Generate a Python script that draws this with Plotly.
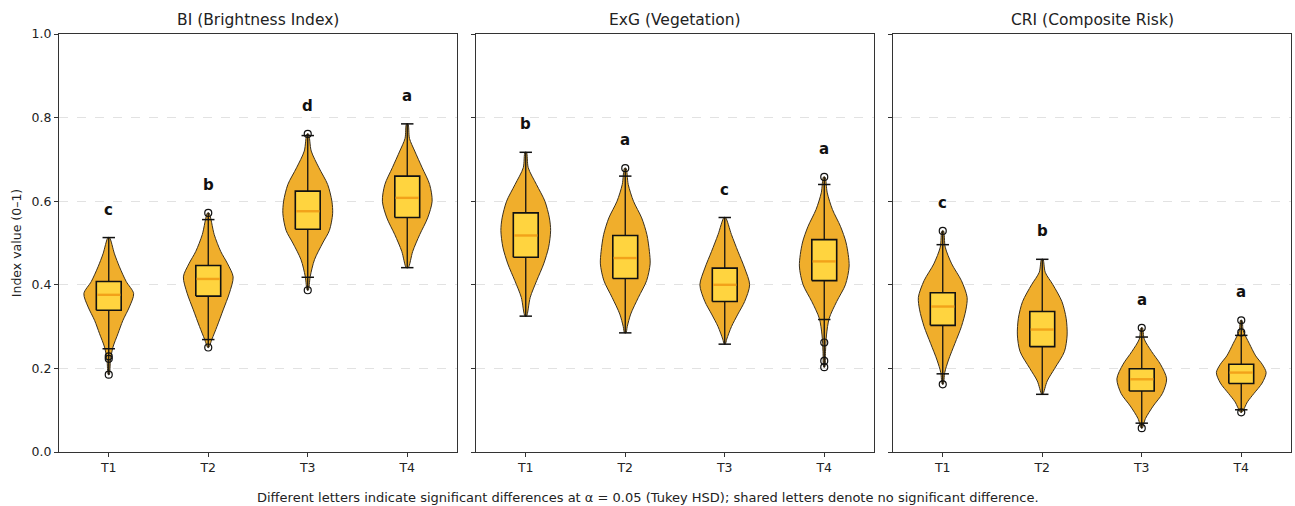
import plotly.graph_objects as go

# ---------------- data ----------------
panels = ["BI (Brightness Index)", "ExG (Vegetation)", "CRI (Composite Risk)"]
groups = ["T1", "T2", "T3", "T4"]
letters = [["c", "b", "d", "a"], ["b", "a", "c", "a"], ["c", "b", "a", "a"]]

q1 = [[0.339, 0.373, 0.533, 0.561], [0.466, 0.415, 0.360, 0.410], [0.303, 0.252, 0.146, 0.164]]
median = [[0.376, 0.414, 0.576, 0.608], [0.518, 0.464, 0.400, 0.456], [0.348, 0.293, 0.174, 0.190]]
q3 = [[0.408, 0.446, 0.624, 0.660], [0.572, 0.518, 0.440, 0.508], [0.381, 0.336, 0.199, 0.210]]
whisk_lo = [[0.247, 0.269, 0.418, 0.441], [0.325, 0.285, 0.258, 0.317], [0.187, 0.138, 0.069, 0.101]]
whisk_hi = [[0.513, 0.556, 0.757, 0.785], [0.717, 0.660, 0.561, 0.640], [0.496, 0.461, 0.275, 0.279]]
outliers = [
    [[0.229, 0.223, 0.185], [0.572, 0.250], [0.761, 0.387], []],
    [[], [0.679], [], [0.658, 0.262, 0.218, 0.203]],
    [[0.529, 0.162], [], [0.297, 0.057], [0.315, 0.286, 0.095]],
]

# violin outline: y levels (top to bottom) and relative half-width (0..1)
vio_y = [
    [
        [0.513, 0.474, 0.443, 0.408, 0.379, 0.347, 0.315, 0.283, 0.251, 0.220, 0.185],
        [0.572, 0.520, 0.480, 0.450, 0.419, 0.380, 0.340, 0.300, 0.270, 0.250],
        [0.761, 0.720, 0.680, 0.640, 0.600, 0.570, 0.530, 0.500, 0.460, 0.420, 0.387],
        [0.785, 0.750, 0.720, 0.680, 0.640, 0.600, 0.560, 0.520, 0.480, 0.441],
    ],
    [
        [0.717, 0.680, 0.640, 0.600, 0.560, 0.530, 0.490, 0.450, 0.410, 0.370, 0.325],
        [0.679, 0.640, 0.600, 0.560, 0.520, 0.480, 0.450, 0.410, 0.370, 0.330, 0.300, 0.285],
        [0.561, 0.520, 0.480, 0.440, 0.400, 0.360, 0.330, 0.300, 0.270, 0.258],
        [0.658, 0.620, 0.580, 0.540, 0.500, 0.445, 0.400, 0.360, 0.320, 0.280, 0.240, 0.203],
    ],
    [
        [0.529, 0.490, 0.450, 0.410, 0.370, 0.340, 0.300, 0.260, 0.220, 0.190, 0.162],
        [0.461, 0.430, 0.400, 0.360, 0.320, 0.280, 0.240, 0.200, 0.170, 0.138],
        [0.297, 0.270, 0.240, 0.210, 0.175, 0.140, 0.110, 0.080, 0.057],
        [0.315, 0.290, 0.260, 0.230, 0.210, 0.190, 0.165, 0.140, 0.120, 0.095],
    ],
]
vio_w = [
    [
        [0.03, 0.23, 0.43, 0.70, 1.00, 0.83, 0.57, 0.37, 0.17, 0.07, 0.02],
        [0.03, 0.24, 0.50, 0.78, 1.00, 0.85, 0.60, 0.35, 0.15, 0.02],
        [0.03, 0.14, 0.45, 0.80, 0.97, 1.00, 0.87, 0.60, 0.27, 0.10, 0.02],
        [0.03, 0.09, 0.30, 0.60, 0.90, 1.00, 0.82, 0.50, 0.22, 0.04],
    ],
    [
        [0.03, 0.10, 0.43, 0.77, 0.95, 1.00, 0.92, 0.72, 0.44, 0.18, 0.03],
        [0.03, 0.12, 0.33, 0.66, 0.87, 0.97, 1.00, 0.86, 0.53, 0.22, 0.08, 0.03],
        [0.03, 0.27, 0.53, 0.80, 1.00, 0.80, 0.53, 0.27, 0.08, 0.02],
        [0.03, 0.12, 0.33, 0.65, 0.88, 1.00, 0.85, 0.50, 0.20, 0.09, 0.05, 0.02],
    ],
    [
        [0.03, 0.10, 0.36, 0.75, 0.98, 0.93, 0.75, 0.49, 0.23, 0.08, 0.02],
        [0.03, 0.12, 0.43, 0.79, 0.96, 1.00, 0.89, 0.50, 0.20, 0.02],
        [0.03, 0.10, 0.40, 0.75, 1.00, 0.83, 0.46, 0.15, 0.02],
        [0.03, 0.08, 0.32, 0.58, 0.84, 1.00, 0.84, 0.51, 0.25, 0.03],
    ],
]

y_ticks = [0.0, 0.2, 0.4, 0.6, 0.8, 1.0]
footnote = ("Different letters indicate significant differences at \u03b1 = 0.05 (Tukey HSD); "
            "shared letters denote no significant difference.")

# ---------------- styling ----------------
VIO_FILL = "#F0AE2C"
VIO_EDGE = "#3a3020"
BOX_FILL = "#FFD43F"
MED_COL = "#F2A21A"
INK = "#111111"
FONT = "DejaVu Sans"
W = 1295
H = 506
domains = [(59 / W, 457 / W), (476 / W, 874 / W), (893 / W, 1291 / W)]
VIO_HALF = 0.25
BOX_W = 0.25
CAP_W = 0.125

fig = go.Figure()


def line(xs, ys, xa, ya, color=INK, width=1.3, **kw):
    fig.add_trace(go.Scatter(x=xs, y=ys, xaxis=xa, yaxis=ya, mode="lines",
                             line=dict(color=color, width=width), hoverinfo="skip",
                             showlegend=False, **kw))


for p in range(3):
    xa = "x" if p == 0 else f"x{p + 1}"
    ya = "y" if p == 0 else f"y{p + 1}"
    for g in range(4):
        cx = g + 1
        ys = vio_y[p][g]
        ws = vio_w[p][g]
        # violin outline
        px = [cx + VIO_HALF * w for w in ws] + [cx - VIO_HALF * w for w in ws[::-1]]
        py = list(ys) + list(ys[::-1])
        px.append(px[0])
        py.append(py[0])
        fig.add_trace(go.Scatter(
            x=px, y=py, xaxis=xa, yaxis=ya, mode="lines", fill="toself",
            fillcolor=VIO_FILL, line=dict(color=VIO_EDGE, width=1, shape="spline", smoothing=0.8),
            hoverinfo="skip", showlegend=False))
        # vertical extent bar (min..max)
        allv = list(ys) + outliers[p][g] + [whisk_lo[p][g], whisk_hi[p][g]]
        line([cx, cx], [min(allv), max(allv)], xa, ya, width=1.3)
        # whisker caps
        for wv in (whisk_lo[p][g], whisk_hi[p][g]):
            line([cx - CAP_W / 2, cx + CAP_W / 2], [wv, wv], xa, ya, width=1.5)
        # box
        bx0, bx1 = cx - BOX_W / 2, cx + BOX_W / 2
        fig.add_trace(go.Scatter(
            x=[bx0, bx1, bx1, bx0, bx0],
            y=[q1[p][g], q1[p][g], q3[p][g], q3[p][g], q1[p][g]],
            xaxis=xa, yaxis=ya, mode="lines", fill="toself", fillcolor=BOX_FILL,
            line=dict(color=INK, width=1.6), hoverinfo="skip", showlegend=False))
        # median line (orange)
        line([bx0 + 0.008, bx1 - 0.008], [median[p][g]] * 2, xa, ya, color=MED_COL, width=2.4)
        # outliers
        if outliers[p][g]:
            fig.add_trace(go.Scatter(
                x=[cx] * len(outliers[p][g]), y=outliers[p][g], xaxis=xa, yaxis=ya,
                mode="markers",
                marker=dict(symbol="circle-open", size=7, color=INK,
                            line=dict(width=1.2, color=INK)),
                hoverinfo="skip", showlegend=False))
        # significance letter
        top = max(allv)
        fig.add_annotation(
            x=cx, y=top + 0.067, xref=xa, yref=ya, text=f"<b>{letters[p][g]}</b>",
            showarrow=False, yanchor="middle", xanchor="center",
            font=dict(family=FONT, size=15, color=INK))

    # panel title
    fig.add_annotation(
        x=(domains[p][0] + domains[p][1]) / 2, y=1, xref="paper", yref="paper",
        yshift=3, yanchor="bottom", xanchor="center", text=panels[p], showarrow=False,
        font=dict(family=FONT, size=15.5, color="#222222"))

axis_common = dict(showline=True, linecolor="#333333", linewidth=1, mirror=True,
                   ticks="outside", ticklen=4, tickcolor="#333333", zeroline=False,
                   tickfont=dict(family=FONT, size=12.5, color="#222222"))
layout = dict(
    width=W, height=H, margin=dict(l=0, r=0, t=34, b=54),
    plot_bgcolor="white", paper_bgcolor="white",
    showlegend=False, font=dict(family=FONT),
)
for p in range(3):
    xk = "xaxis" if p == 0 else f"xaxis{p + 1}"
    yk = "yaxis" if p == 0 else f"yaxis{p + 1}"
    xa = "x" if p == 0 else f"x{p + 1}"
    ya = "y" if p == 0 else f"y{p + 1}"
    layout[xk] = dict(axis_common, domain=list(domains[p]), range=[0.5, 4.5],
                      tickvals=[1, 2, 3, 4], ticktext=groups, showgrid=False, anchor=ya)
    layout[yk] = dict(axis_common, domain=[0, 1], range=[0, 1], tickvals=y_ticks,
                      ticktext=[f"{v:.1f}" for v in y_ticks], showticklabels=(p == 0),
                      showgrid=True, gridcolor="#e2e2e2", griddash="dash", gridwidth=1,
                      anchor=xa)
layout["yaxis"]["title"] = dict(text="Index value (0\u20131)",
                                font=dict(family=FONT, size=12.5, color="#222222"), standoff=7)
fig.update_layout(**layout)

fig.add_annotation(x=0.5, y=0, xref="paper", yref="paper", yshift=-45, yanchor="middle",
                   xanchor="center", text=footnote, showarrow=False,
                   font=dict(family=FONT, size=13, color="#222222"))

fig.write_html("out.html")
